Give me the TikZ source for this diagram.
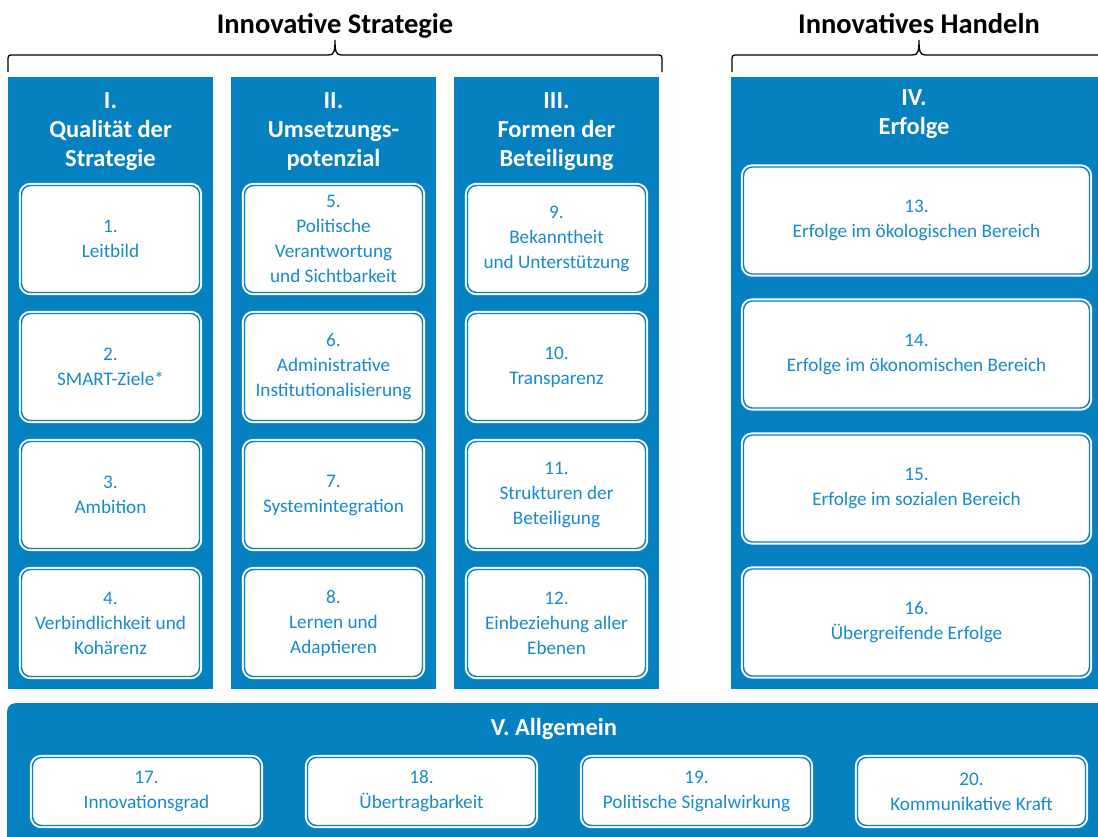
\documentclass[tikz,border=0pt]{standalone}
\usepackage{fontspec}
\setmainfont{Carlito}
\usepackage{tikz}

\definecolor{ufzblue}{RGB}{5,128,192}
\definecolor{itemblue}{RGB}{24,138,202}

\begin{document}
\begin{tikzpicture}[x=1pt,y=-1pt,
  column/.style={fill=ufzblue, inner sep=0pt, anchor=north west},
  item/.style={fill=white, draw=white, double=ufzblue, line width=2pt,
    double distance=1.4pt, rounded corners=9pt, text=itemblue, align=center,
    inner sep=0pt, font=\fontsize{19.2}{25}\selectfont},
  colhead/.style={text=white, align=center, anchor=base,
    font=\bfseries\fontsize{24.5}{29}\selectfont},
  bigtitle/.style={anchor=base, font=\bfseries\fontsize{28.5}{30}\selectfont}]

  \def\xmax{1098}
  \def\ymax{836}
  \useasboundingbox (0,0) rectangle (\xmax,\ymax);

  % braces and titles
  \foreach \xl/\xm/\xr in {8/335/662, 732/919/1106}
    \draw[line width=1.3pt] (\xl,72) -- (\xl,62) .. controls (\xl,55) .. (\xl+6,55)
      -- (\xm-6,55) .. controls (\xm-1,55) and (\xm,51) .. (\xm,40)
      .. controls (\xm,51) and (\xm+1,55) .. (\xm+6,55)
      -- (\xr-6,55) .. controls (\xr,55) .. (\xr,62) -- (\xr,72);
  \node[bigtitle] (strat) at (335,33) {Innovative Strategie};
  \node[bigtitle] (handeln) at (919,33) {Innovatives Handeln};

  % columns
  \node[column, minimum width=205pt, minimum height=612pt] (colI) at (8,77) {};
  \node[column, minimum width=205pt, minimum height=612pt] (colII) at (231,77) {};
  \node[column, minimum width=205pt, minimum height=612pt] (colIII) at (454,77) {};
  \node[column, minimum width=367pt, minimum height=612pt] (colIV) at (731,77) {};
  \node[column, rounded corners=8pt, minimum width=1120pt, minimum height=150pt] (band) at (7,703) {};

  % column heads (placed at the baseline of their last line)
  \node[colhead] (headI) at (110.5,166) {I.\\Qualität der\\Strategie};
  \node[colhead] (headII) at (333.5,166) {II.\\Umsetzungs-\\potenzial};
  \node[colhead] (headIII) at (556.5,166) {III.\\Formen der\\Beteiligung};
  \node[colhead] (headIV) at (914,134) {IV.\\Erfolge};
  \node[colhead] (headV) at (554,735) {V. Allgemein};

  % items of strategy
  \foreach \n/\x/\y/\txt in {
    1/110.5/239/{1.\\Leitbild},
    2/110.5/367/{2.\\SMART-Ziele*},
    3/110.5/495/{3.\\Ambition},
    4/110.5/623/{4.\\Verbindlichkeit und\\Kohärenz},
    5/333.5/239/{5.\\Politische\\Verantwortung\\und Sichtbarkeit},
    6/333.5/367/{6.\\Administrative\\Institutionalisierung},
    7/333.5/495/{7.\\Systemintegration},
    8/333.5/623/{8.\\Lernen und\\Adaptieren},
    9/556.5/239/{9.\\Bekanntheit\\und Unterstützung},
    10/556.5/367/{10.\\Transparenz},
    11/556.5/495/{11.\\Strukturen der\\Beteiligung},
    12/556.5/623/{12.\\Einbeziehung aller\\Ebenen}}
    \node[item, minimum width=178pt, minimum height=107pt] (b\n) at (\x,\y) {\txt};

  % items of success
  \foreach \n/\y/\txt in {
    13/220.5/{13.\\Erfolge im ökologischen Bereich},
    14/354.5/{14.\\Erfolge im ökonomischen Bereich},
    15/488.5/{15.\\Erfolge im sozialen Bereich},
    16/622.5/{16.\\Übergreifende Erfolge}}
    \node[item, minimum width=346pt, minimum height=107pt] (b\n) at (916.5,\y) {\txt};

  % general items
  \foreach \n/\x/\txt in {
    17/146.5/{17.\\Innovationsgrad},
    18/421.5/{18.\\Übertragbarkeit},
    19/696.5/{19.\\Politische Signalwirkung},
    20/971.5/{20.\\Kommunikative Kraft}}
    \node[item, minimum width=228pt, minimum height=68pt] (b\n) at (\x,791.5) {\txt};

\end{tikzpicture}
\end{document}
